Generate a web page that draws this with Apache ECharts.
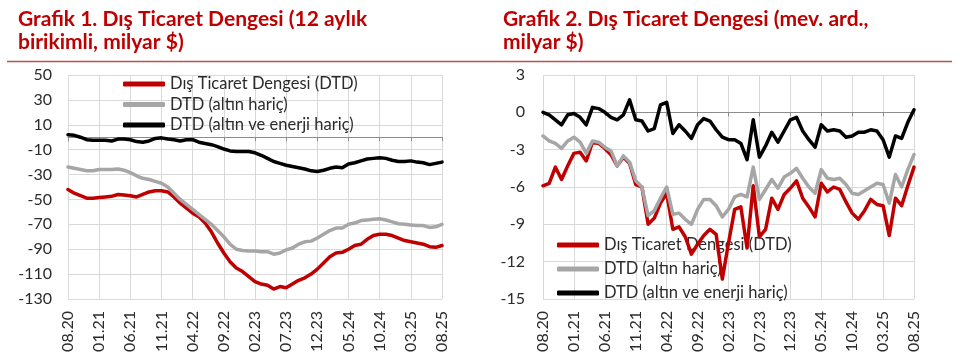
<!DOCTYPE html>
<html>
<head>
<meta charset="utf-8">
<script src="https://cdn.jsdelivr.net/npm/echarts@6/dist/echarts.min.js"></script>
<style>
html,body{margin:0;padding:0;background:#fff;}
#c{width:960px;height:363px;}
</style>
</head>
<body>
<div id="c"></div>
<script>
const categories = ['08.20','09.20','10.20','11.20','12.20',
'01.21','02.21','03.21','04.21','05.21','06.21','07.21','08.21','09.21','10.21','11.21','12.21',
'01.22','02.22','03.22','04.22','05.22','06.22','07.22','08.22','09.22','10.22','11.22','12.22',
'01.23','02.23','03.23','04.23','05.23','06.23','07.23','08.23','09.23','10.23','11.23','12.23',
'01.24','02.24','03.24','04.24','05.24','06.24','07.24','08.24','09.24','10.24','11.24','12.24',
'01.25','02.25','03.25','04.25','05.25','06.25','07.25','08.25'];

const seriesNames = ['Dış Ticaret Dengesi (DTD)', 'DTD (altın hariç)', 'DTD (altın ve enerji hariç)'];

const leftDTD = [-42, -45, -47, -49, -49, -48.5, -48, -47.5, -46, -46.5,
 -47, -48, -46, -44, -43, -43, -44, -48, -53, -57,
 -61, -64, -69, -76, -85, -93, -100, -105, -108, -112,
 -116, -118, -119, -122, -120, -121, -118, -115, -113, -110,
 -106, -101, -96, -93, -92.5, -90, -87, -86, -82, -79,
 -78, -78, -79, -81, -83, -84, -85, -86, -88, -88.5,
 -87];
const leftExGold = [-24, -25, -26, -27, -27, -26, -26, -26, -25.5, -26.5,
 -28.5, -31, -33, -34, -35.5, -37, -40, -45, -50, -54,
 -58, -62, -66, -70, -75, -80, -86, -90, -91, -91.5,
 -91.5, -92, -92, -94, -93, -90.5, -89, -86, -84, -83.5,
 -81, -78, -75, -73, -73, -70, -69, -67, -66.5, -66,
 -65.5, -66.5, -68, -69.5, -70, -70.5, -71, -71, -72.5, -72,
 -70];
const leftExGoldEnergy = [2, 1.5, 0, -2, -2.5, -2.5, -2.5, -3, -1.5, -1.5,
 -2, -3.5, -4, -3, -1, -0.5, -1.5, -2, -3, -2,
 -2, -4, -5, -6, -7.5, -9.5, -11, -11.5, -11.5, -11.5,
 -12.5, -14.5, -17, -19.5, -21, -22.5, -23.5, -24.5, -25.5, -27,
 -27.5, -26.5, -25, -24, -24.5, -21.5, -20.5, -19, -17.5, -17,
 -16.5, -17, -18.5, -19.5, -19.5, -19, -20, -20.5, -22, -21,
 -20];

const rightDTD = [-5.9, -5.7, -4.4, -5.4, -4.3, -3.3, -3.2, -3.9, -2.4, -2.5,
 -2.9, -3.4, -4.3, -3.6, -4.1, -5.8, -6.0, -9.0, -8.5, -7.3,
 -6.5, -9.4, -9.2, -10.0, -11.4, -10.6, -9.9, -9.4, -9.8, -13.4,
 -10.5, -7.8, -7.6, -10.9, -5.9, -10.0, -9.4, -6.9, -7.8, -6.6,
 -6.1, -5.5, -6.9, -7.6, -8.4, -5.7, -6.4, -6.0, -6.2, -7.2,
 -8.1, -8.6, -7.9, -7.0, -7.4, -7.5, -9.9, -6.9, -7.5, -5.9,
 -4.4];
const rightExGold = [-1.9, -2.3, -2.5, -2.9, -2.3, -2.0, -2.4, -3.3, -2.3, -2.4,
 -2.8, -3.1, -4.3, -3.5, -4.0, -5.5, -6.0, -8.3, -7.9, -6.9,
 -6.0, -8.2, -8.1, -8.6, -9.0, -7.8, -7.0, -7.0, -7.5, -8.4,
 -7.8, -6.8, -6.6, -6.8, -4.4, -7.0, -6.2, -5.4, -6.1, -5.2,
 -4.9, -4.5, -5.3, -6.0, -6.5, -4.6, -5.3, -5.4, -5.3, -5.8,
 -6.5, -6.6, -6.3, -6.0, -5.7, -5.8, -7.3, -5.0, -6.0, -4.6,
 -3.4];
const rightExGoldEnergy = [0, -0.2, -0.6, -1.0, -0.2, -0.1, -0.4, -1.0, 0.4, 0.3,
 0.0, -0.4, -0.6, -0.2, 1.0, -0.6, -0.7, -1.5, -1.3, 0.6,
 0.8, -1.7, -1.0, -1.5, -2.1, -1.0, -0.5, -0.7, -1.4, -2.0,
 -2.2, -2.2, -2.5, -3.8, -0.6, -3.6, -2.7, -1.6, -2.4, -1.5,
 -0.6, -0.4, -1.5, -2.2, -2.8, -1.0, -1.5, -1.4, -1.5, -2.0,
 -1.9, -1.6, -1.6, -1.4, -1.5, -2.2, -3.6, -1.9, -2.1, -0.8,
 0.2];

const leftYTicks = [-130, -110, -90, -70, -50, -30, -10, 10, 30, 50];

const colors = ['#C00000', '#A6A6A6', '#000000'];
const FONT = 'Lato';
const labelColor = '#2b2b2b';
const gridColor = '#D9D9D9';
const zeroColor = '#8C8C8C';

function bottomAxis(gi) {
  return {
    gridIndex: gi, type: 'category', data: categories, boundaryGap: false, position: 'bottom',
    axisLine: { show: false, onZero: false },
    axisTick: { show: false },
    axisLabel: { interval: 4, rotate: 90, margin: 12, fontSize: 16, color: labelColor, fontFamily: FONT },
    splitLine: { show: true, interval: 4, lineStyle: { color: gridColor, width: 1 } }
  };
}
function zeroAxis(gi) {
  return {
    gridIndex: gi, type: 'category', data: categories, boundaryGap: false, position: 'top',
    axisLine: { show: true, onZero: true, lineStyle: { color: zeroColor, width: 1.2 } },
    axisTick: { show: true, inside: true, interval: 4, length: 4, lineStyle: { color: zeroColor } },
    axisLabel: { show: false },
    splitLine: { show: false }
  };
}
function lineSeries(name, data, ci, gi) {
  return {
    name: name, type: 'line', data: data, xAxisIndex: gi * 2, yAxisIndex: gi,
    showSymbol: false, symbol: 'none', smooth: false, z: 3,
    itemStyle: { color: colors[ci] },
    lineStyle: { color: colors[ci], width: 3.5, join: 'round', cap: 'round' }
  };
}
function legendCfg(left, top, gap) {
  return {
    data: seriesNames, orient: 'vertical', left: left, top: top, padding: 0,
    itemWidth: 42, itemHeight: 5, itemGap: gap, icon: 'roundRect', z: 1,
    selectedMode: false,
    textStyle: { fontSize: 16.5, color: labelColor, fontFamily: FONT }
  };
}
const titleStyle = { fontFamily: FONT, fontWeight: 'bold', fontSize: 21, color: '#C00000', lineHeight: 23.5 };

const chart = echarts.init(document.getElementById('c'), null, { renderer: 'canvas' });
chart.setOption({
  animation: false,
  backgroundColor: '#ffffff',
  textStyle: { fontFamily: FONT },
  title: [
    { text: 'Grafik 1. Dış Ticaret Dengesi (12 aylık\nbirikimli, milyar $)', left: 18, top: 7, padding: 0, textStyle: titleStyle },
    { text: 'Grafik 2. Dış Ticaret Dengesi (mev. ard.,\nmilyar $)', left: 503, top: 7, padding: 0, textStyle: titleStyle }
  ],
  graphic: [
    { type: 'line', shape: { x1: 7, y1: 61.5, x2: 952, y2: 61.5 }, style: { stroke: '#C0504D', lineWidth: 1.5 } }
  ],
  legend: [legendCfg(123, 75.5, 3.5), legendCfg(557, 236.5, 7)],
  grid: [
    { left: 68, right: 518, top: 75, bottom: 64 },
    { left: 543, right: 46, top: 75, bottom: 64 }
  ],
  xAxis: [bottomAxis(0), zeroAxis(0), bottomAxis(1), zeroAxis(1)],
  yAxis: [
    {
      gridIndex: 0, type: 'value', min: -130, max: 50,
      axisLine: { show: false }, axisTick: { show: false, customValues: leftYTicks },
      axisLabel: { customValues: leftYTicks, margin: 16, fontSize: 16, color: labelColor, fontFamily: FONT },
      splitLine: { show: true, lineStyle: { color: gridColor, width: 1 } }
    },
    {
      gridIndex: 1, type: 'value', min: -15, max: 3, interval: 3,
      axisLine: { show: false }, axisTick: { show: false },
      axisLabel: { margin: 18, fontSize: 16, color: labelColor, fontFamily: FONT },
      splitLine: { show: true, lineStyle: { color: gridColor, width: 1 } }
    }
  ],
  series: [
    lineSeries(seriesNames[0], leftDTD, 0, 0),
    lineSeries(seriesNames[1], leftExGold, 1, 0),
    lineSeries(seriesNames[2], leftExGoldEnergy, 2, 0),
    lineSeries(seriesNames[0], rightDTD, 0, 1),
    lineSeries(seriesNames[1], rightExGold, 1, 1),
    lineSeries(seriesNames[2], rightExGoldEnergy, 2, 1)
  ]
});
</script>
</body>
</html>
